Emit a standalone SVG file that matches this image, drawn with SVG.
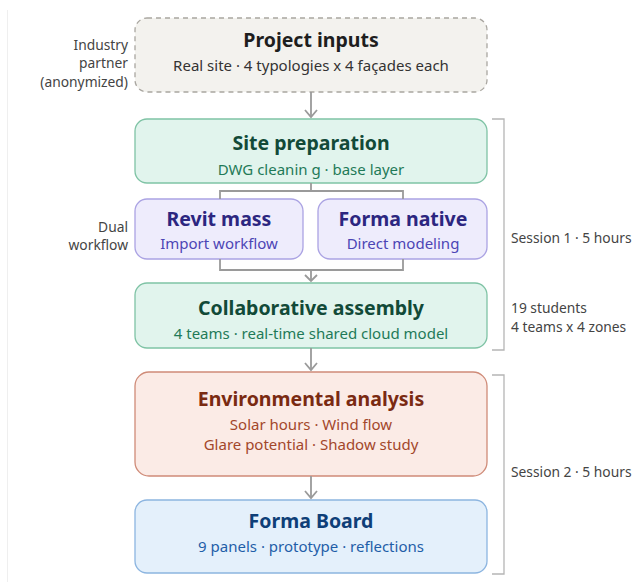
<svg xmlns="http://www.w3.org/2000/svg" width="640" height="588" viewBox="0 0 640 588">
  <style>
    text { font-family: "Noto Sans", "Liberation Sans", sans-serif; }
    .t { font-size: 19.5px; font-weight: 700; text-anchor: middle; }
    .s { font-size: 15px; text-anchor: middle; }
    .side { font-size: 13.8px; fill: #444; }
    .right { text-anchor: end; }
    .box { stroke-width: 1.3; }
    .conn { fill: none; stroke: #9a9a9a; stroke-width: 1.8; }
    .brk { fill: none; stroke: #b5b5b5; stroke-width: 1.3; }
  </style>

  <rect width="640" height="588" fill="#ffffff"/>
  <line x1="7.5" y1="10" x2="7.5" y2="582" stroke="#efefef" stroke-width="1"/>

  <!-- stage nodes -->
  <g id="project-inputs">
    <rect class="box" x="135" y="18" width="352" height="74" rx="12" fill="#f3f2ee" stroke="#a9a6a0" stroke-dasharray="5 4"/>
    <text class="t" x="311" y="47" fill="#1e1e1e">Project inputs</text>
    <text class="s" x="311" y="71" fill="#333">Real site · 4 typologies x 4 façades each</text>
  </g>

  <g id="site-preparation">
    <rect class="box" x="135" y="119" width="352" height="64" rx="12" fill="#e1f4ed" stroke="#7fc3a5"/>
    <text class="t" x="311" y="150" fill="#124a38">Site preparation</text>
    <text class="s" x="311" y="175" fill="#1f7a58">DWG cleanin g · base layer</text>
  </g>

  <g id="revit-mass">
    <rect class="box" x="135" y="199" width="168" height="60" rx="12" fill="#eeecfc" stroke="#aba3e3"/>
    <text class="t" x="219" y="226" fill="#2c2680">Revit mass</text>
    <text class="s" x="219" y="249" fill="#4c45b5">Import workflow</text>
  </g>

  <g id="forma-native">
    <rect class="box" x="318" y="199" width="169" height="60" rx="12" fill="#eeecfc" stroke="#aba3e3"/>
    <text class="t" x="403" y="226" fill="#2c2680">Forma native</text>
    <text class="s" x="403" y="249" fill="#4c45b5">Direct modeling</text>
  </g>

  <g id="collaborative-assembly">
    <rect class="box" x="135" y="283" width="352" height="65" rx="12" fill="#e1f4ed" stroke="#7fc3a5"/>
    <text class="t" x="311" y="315" fill="#124a38">Collaborative assembly</text>
    <text class="s" x="311" y="339" fill="#1f7a58">4 teams · real-time shared cloud model</text>
  </g>

  <g id="environmental-analysis">
    <rect class="box" x="135" y="372" width="352" height="104" rx="14" fill="#fbebe6" stroke="#cf8b78"/>
    <text class="t" x="311" y="406" fill="#7a2a12">Environmental analysis</text>
    <text class="s" x="311" y="430" fill="#a3472b">Solar hours · Wind flow</text>
    <text class="s" x="311" y="450" fill="#a3472b">Glare potential · Shadow study</text>
  </g>

  <g id="forma-board">
    <rect class="box" x="135" y="500" width="352" height="73" rx="12" fill="#e4f0fb" stroke="#8cb5e0"/>
    <text class="t" x="311" y="528" fill="#0f3f78">Forma Board</text>
    <text class="s" x="311" y="552" fill="#1f5ea8">9 panels · prototype · reflections</text>
  </g>

  <!-- connectors -->
  <g id="connectors">
    <line class="conn" x1="311" y1="92" x2="311" y2="117"/>
    <polyline class="conn" points="305,110 311,117 317,110"/>

    <polyline class="conn" points="311,183 311,191"/>
    <polyline class="conn" points="220,199 220,191 403,191 403,199"/>

    <polyline class="conn" points="220,259 220,270 403,270 403,259"/>
    <line class="conn" x1="311" y1="270" x2="311" y2="281"/>
    <polyline class="conn" points="305,275 311,281 317,275"/>

    <line class="conn" x1="311" y1="348" x2="311" y2="370"/>
    <polyline class="conn" points="305,363 311,370 317,363"/>

    <line class="conn" x1="311" y1="476" x2="311" y2="498"/>
    <polyline class="conn" points="305,491 311,498 317,491"/>
  </g>

  <!-- session brackets -->
  <g id="session-1">
    <polyline class="brk" points="492,119 504,119 504,350 492,350"/>
    <text class="side" x="511" y="243">Session 1 · 5 hours</text>
    <text class="side" x="511" y="313">19 students</text>
    <text class="side" x="511" y="332">4 teams x 4 zones</text>
  </g>
  <g id="session-2">
    <polyline class="brk" points="492,375 504,375 504,574 492,574"/>
    <text class="side" x="511" y="477">Session 2 · 5 hours</text>
  </g>

  <!-- side notes -->
  <g id="partner-note">
    <text class="side right" x="128" y="50">Industry</text>
    <text class="side right" x="128" y="68">partner</text>
    <text class="side right" x="128" y="87">(anonymized)</text>
  </g>
  <g id="workflow-note">
    <text class="side right" x="128" y="232">Dual</text>
    <text class="side right" x="128" y="250">workflow</text>
  </g>
</svg>
